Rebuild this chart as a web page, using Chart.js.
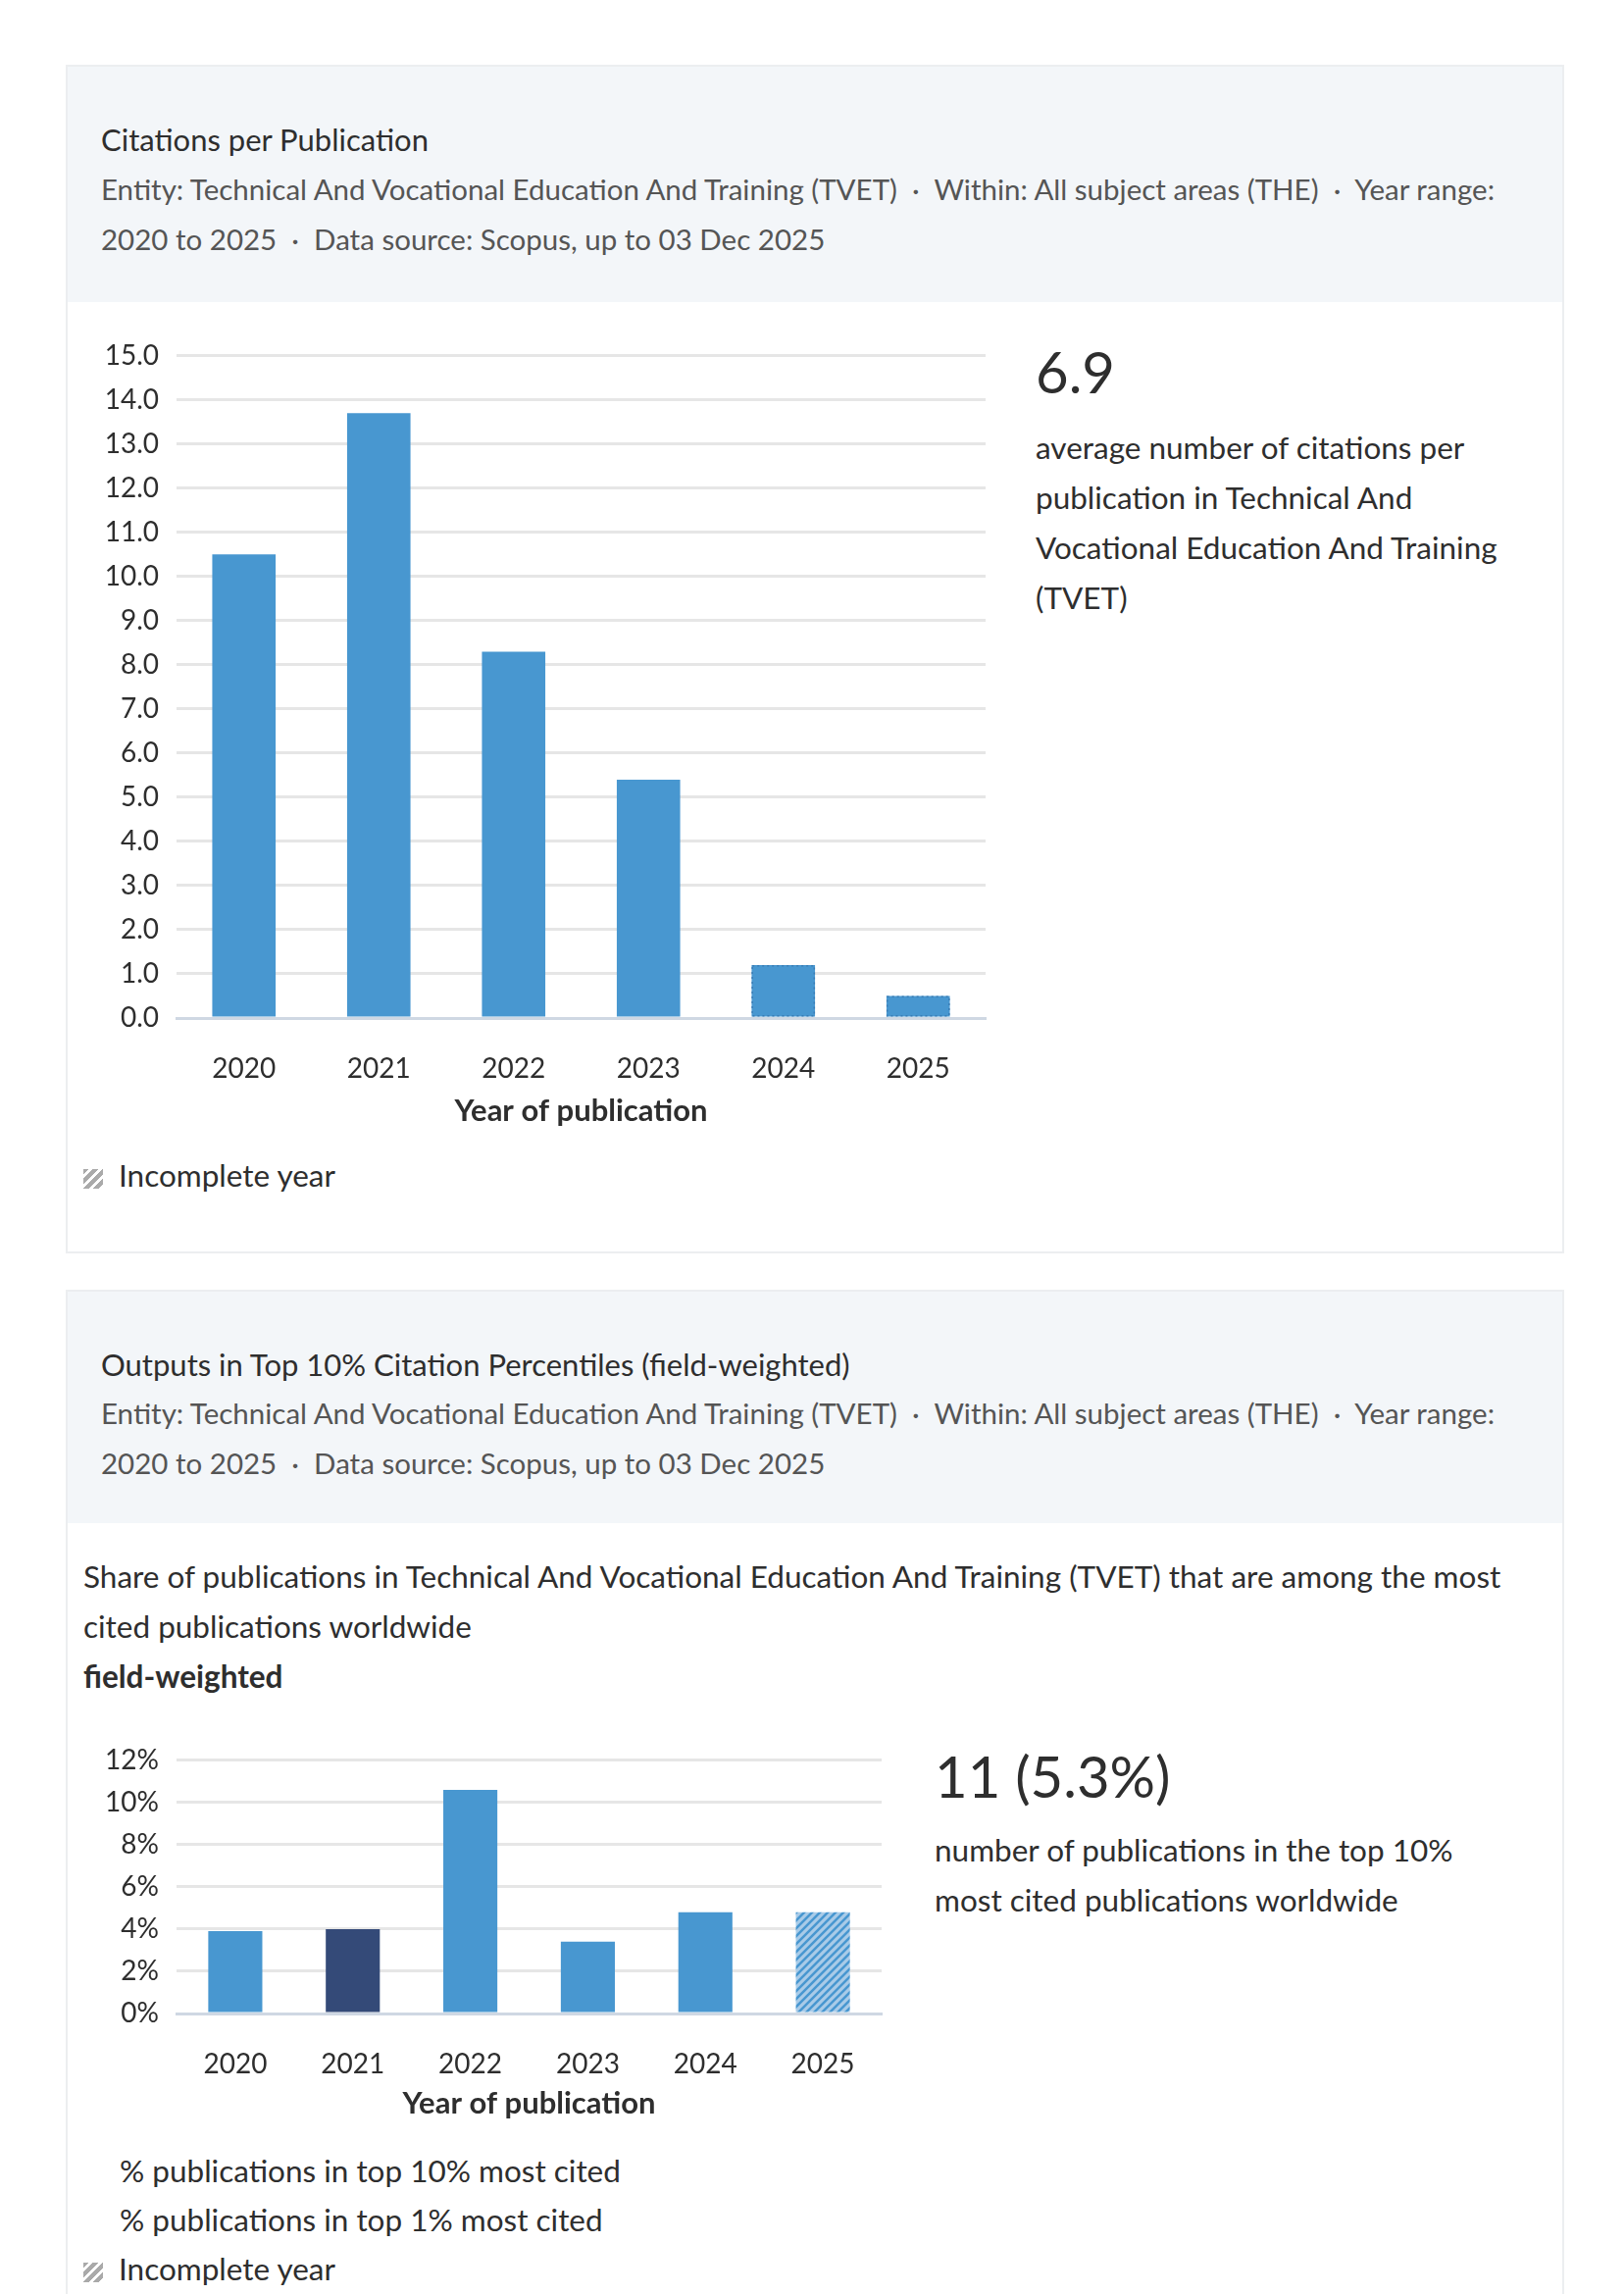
<!DOCTYPE html>
<html>
<head>
<meta charset="utf-8">
<script src="https://cdn.jsdelivr.net/npm/chart.js@4.4.1/dist/chart.umd.min.js"></script>
<style>
  body { margin: 0; background: #fff; font-family: Lato, "Noto Sans", sans-serif; color: #2e2e2e; }
  .panel { position: absolute; left: 67px; width: 1528px; border: 2px solid #eceef0; box-sizing: border-box; background: #fff; }
  .head { position: absolute; left: 0; top: 0; right: 0; background: #f3f6f9; }
  .title { position: absolute; left: 34px; font-size: 31px; color: #2e2e2e; }
  .sub { position: absolute; left: 34px; font-size: 29.5px; color: #555; line-height: 51px; white-space: nowrap; }
  .txt { position: absolute; font-size: 31.5px; line-height: 51px; color: #2e2e2e; white-space: nowrap; }
  .big { position: absolute; font-size: 58px; color: #2e2e2e; }
  .hatch { display: inline-block; width: 20px; height: 20px; vertical-align: -2px; margin-right: 16px;
           background: repeating-linear-gradient(135deg, #aaa 0 4px, #fff 4px 7px); }
  canvas { position: absolute; }
</style>
</head>
<body>

<div class="panel" style="top:66px;height:1212px;">
  <div class="head" style="height:240px;"></div>
  <div class="title" style="top:55px;">Citations per Publication</div>
  <div class="sub" style="top:99px;">Entity: Technical And Vocational Education And Training (TVET) &nbsp;·&nbsp; Within: All subject areas (THE) &nbsp;·&nbsp; Year range:<br>2020 to 2025 &nbsp;·&nbsp; Data source: Scopus, up to 03 Dec 2025</div>
  <div class="big" style="left:987px;top:276px;">6.9</div>
  <div class="txt" style="left:987px;top:363px;">average number of citations per<br>publication in Technical And<br>Vocational Education And Training<br>(TVET)</div>
  <div class="txt" style="left:16px;top:1105px;"><span class="hatch"></span>Incomplete year</div>
</div>
<canvas id="c1" width="920" height="824" style="left:90px;top:328px;"></canvas>

<div class="panel" style="top:1315px;height:1100px;">
  <div class="head" style="height:236px;"></div>
  <div class="title" style="top:55px;">Outputs in Top 10% Citation Percentiles (field-weighted)</div>
  <div class="sub" style="top:98px;">Entity: Technical And Vocational Education And Training (TVET) &nbsp;·&nbsp; Within: All subject areas (THE) &nbsp;·&nbsp; Year range:<br>2020 to 2025 &nbsp;·&nbsp; Data source: Scopus, up to 03 Dec 2025</div>
  <div class="txt" style="left:16px;top:265px;">Share of publications in Technical And Vocational Education And Training (TVET) that are among the most<br>cited publications worldwide</div>
  <div class="txt" style="left:16px;top:367px;font-weight:bold;">field-weighted</div>
  <div class="big" style="left:884px;top:459px;">11 (5.3%)</div>
  <div class="txt" style="left:884px;top:544px;">number of publications in the top 10%<br>most cited publications worldwide</div>
  <div class="txt" style="left:53px;top:871px;">% publications in top 10% most cited</div>
  <div class="txt" style="left:53px;top:921px;">% publications in top 1% most cited</div>
  <div class="txt" style="left:16px;top:971px;"><span class="hatch"></span>Incomplete year</div>
</div>
<canvas id="c2" width="817" height="404" style="left:90px;top:1760px;"></canvas>

<script>
// chart data
var years = ["2020", "2021", "2022", "2023", "2024", "2025"];
var citationsPerPub = [10.5, 13.7, 8.3, 5.4, 1.2, 0.5];
var top10Share = [3.9, 4.0, 10.6, 3.4, 4.8, 4.8];
var citTicks = [0, 1, 2, 3, 4, 5, 6, 7, 8, 9, 10, 11, 12, 13, 14, 15];
var shareTicks = [0, 2, 4, 6, 8, 10, 12];
var incompleteCit = [4, 5]; // bars drawn with a dotted outline in the first chart

var blue = "#4897d0";
var navy = "#344a78";

function hatchPattern() {
  var p = document.createElement("canvas");
  p.width = 8; p.height = 8;
  var g = p.getContext("2d");
  g.fillStyle = "#a9cbe8";
  g.fillRect(0, 0, 8, 8);
  g.strokeStyle = blue;
  g.lineWidth = 2.5;
  g.beginPath();
  g.moveTo(-2, 10); g.lineTo(10, -2);
  g.moveTo(-2, 2); g.lineTo(2, -2);
  g.moveTo(6, 10); g.lineTo(10, 6);
  g.stroke();
  return g.createPattern(p, "repeat");
}

// dotted outline on the incomplete-year bars
var dottedOutline = {
  id: "dottedOutline",
  afterDatasetsDraw: function (chart) {
    var meta = chart.getDatasetMeta(0);
    var ctx = chart.ctx;
    ctx.save();
    ctx.strokeStyle = "#3a7db5";
    ctx.lineWidth = 1.5;
    ctx.setLineDash([2, 3]);
    incompleteCit.forEach(function (i) {
      var b = meta.data[i];
      var half = b.width / 2;
      ctx.strokeRect(b.x - half + 0.75, b.y + 0.75, b.width - 1.5, b.base - b.y - 1.5);
    });
    ctx.restore();
  }
};

Chart.defaults.font.family = "Lato, 'Noto Sans', sans-serif";
Chart.defaults.color = "#2e2e2e";

function axisOptions(yMax, tickList, fmt, yWidth, xHeight) {
  return {
    x: {
      grid: { display: false, drawTicks: false },
      border: { color: "#cfd8e3", width: 3 },
      ticks: { font: { size: 28 }, padding: 35, color: "#2e2e2e" },
      title: { display: true, text: "Year of publication", font: { size: 31, weight: "bold" }, padding: 0, color: "#2e2e2e" },
      afterFit: function (s) { s.height = xHeight; }
    },
    y: {
      min: 0, max: yMax,
      afterBuildTicks: function (s) { s.ticks = tickList.map(function (v) { return { value: v }; }); },
      grid: { color: "#e6e6e6", lineWidth: 3, drawTicks: false },
      border: { display: false },
      ticks: { font: { size: 28 }, padding: 18, color: "#2e2e2e", callback: fmt },
      afterFit: function (s) { s.width = yWidth; }
    }
  };
}

new Chart(document.getElementById("c1").getContext("2d"), {
  type: "bar",
  data: {
    labels: years,
    datasets: [{
      label: "Citations per Publication",
      data: citationsPerPub,
      backgroundColor: blue,
      categoryPercentage: 1,
      barPercentage: 0.47
    }]
  },
  options: {
    responsive: false,
    animation: false,
    devicePixelRatio: 1,
    layout: { padding: { top: 8, right: 5, left: 0, bottom: 0 } },
    plugins: { legend: { display: false }, tooltip: { enabled: false } },
    scales: axisOptions(15, citTicks, function (v) { return Number(v).toFixed(1); }, 90, 114)
  },
  plugins: [dottedOutline]
});

var pat = hatchPattern();
new Chart(document.getElementById("c2").getContext("2d"), {
  type: "bar",
  data: {
    labels: years,
    datasets: [{
      label: "% publications in top 10% most cited",
      data: top10Share,
      backgroundColor: [blue, navy, blue, blue, blue, pat],
      categoryPercentage: 1,
      barPercentage: 0.46
    }]
  },
  options: {
    responsive: false,
    animation: false,
    devicePixelRatio: 1,
    layout: { padding: { top: 8, right: 5, left: 0, bottom: 0 } },
    plugins: { legend: { display: false }, tooltip: { enabled: false } },
    scales: axisOptions(12, shareTicks, function (v) { return v + "%"; }, 90, 111)
  }
});
</script>
</body>
</html>
